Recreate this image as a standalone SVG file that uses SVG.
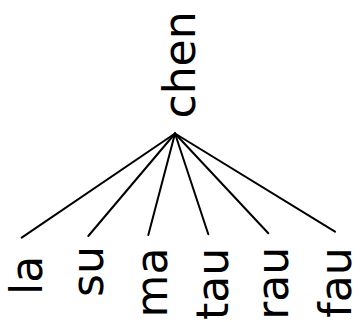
<svg xmlns="http://www.w3.org/2000/svg" width="360" height="322" viewBox="0 0 360 322">
<style>
.lbl{font-family:"DejaVu Sans","Liberation Sans",sans-serif;font-size:44px;fill:#000;text-anchor:middle}
.ln{stroke:#000;stroke-width:2;fill:none;stroke-linecap:round}
</style>
<rect width="360" height="322" fill="#fff"/>
<g id="connectors">
<line class="ln" x1="175" y1="133.5" x2="21.7" y2="237.7"/>
<line class="ln" x1="175" y1="133.5" x2="88.3" y2="236"/>
<line class="ln" x1="175" y1="133.5" x2="148.3" y2="235"/>
<line class="ln" x1="175" y1="133.5" x2="208.3" y2="234.3"/>
<line class="ln" x1="175" y1="133.5" x2="268.3" y2="233.3"/>
<line class="ln" x1="175" y1="133.5" x2="335" y2="231.7"/>
</g>
<g id="node-chen"><text class="lbl" transform="translate(195,65) rotate(-90)">chen</text></g>
<g id="node-la"><text class="lbl" transform="translate(42,275.5) rotate(-90)">la</text></g>
<g id="node-su"><text class="lbl" transform="translate(103,271.5) rotate(-90)">su</text></g>
<g id="node-ma"><text class="lbl" transform="translate(166.5,282.5) rotate(-90)">ma</text></g>
<g id="node-tau"><text class="lbl" transform="translate(228,284) rotate(-90)">tau</text></g>
<g id="node-rau"><text class="lbl" transform="translate(288,283.3) rotate(-90)">rau</text></g>
<g id="node-fau"><text class="lbl" transform="translate(351,282.5) rotate(-90)">fau</text></g>
</svg>
